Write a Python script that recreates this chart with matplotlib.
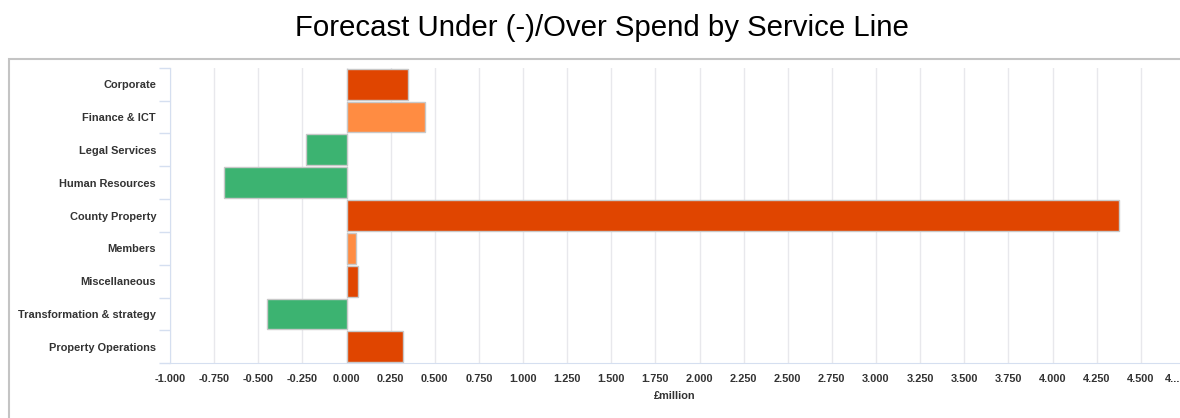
import matplotlib.pyplot as plt
from matplotlib.patches import Rectangle
from matplotlib.ticker import FixedLocator

services = [
    "Corporate",
    "Finance & ICT",
    "Legal Services",
    "Human Resources",
    "County Property",
    "Members",
    "Miscellaneous",
    "Transformation & strategy",
    "Property Operations",
]

# forecast under(-)/over spend, £million
variance = [0.348, 0.443, -0.231, -0.692, 4.379, 0.054, 0.063, -0.450, 0.322]

# status band per service line
status = ["high", "mid", "under", "under", "high", "mid", "high", "under", "high"]

x_ticks = [-1.0, -0.75, -0.5, -0.25, 0.0, 0.25, 0.5, 0.75, 1.0, 1.25, 1.5, 1.75,
           2.0, 2.25, 2.5, 2.75, 3.0, 3.25, 3.5, 3.75, 4.0, 4.25, 4.5]

COLORS = {"high": "#E04500", "mid": "#FF8C42", "under": "#3CB371"}
TXT = "#333333"
AXIS = "#D5DFF0"

plt.rcParams["font.family"] = ["Liberation Sans", "DejaVu Sans"]

fig = plt.figure(figsize=(11.8, 4.18), dpi=100)

# outer chart frame
fig.patches.append(Rectangle(
    (9 / 1180, -0.1), 1.2, 1.1 - 59 / 418,
    transform=fig.transFigure, fill=False,
    edgecolor="#C4C4C4", linewidth=1.5, zorder=0
))

ax = fig.add_axes([170 / 1180, 1 - 363.3 / 418, 1010 / 1180, (363.3 - 67.7) / 418])

pos = list(range(len(services)))
ax.barh(
    pos,
    variance,
    height=0.94,
    color=[COLORS[s] for s in status],
    edgecolor="#C8C8C8",
    linewidth=1,
    zorder=3
)

ax.set_ylim(len(services) - 0.5, -0.5)
ax.set_xlim(-1.0, (1180 - 346.5) / 176.5)

ax.set_yticks(pos)
ax.set_yticklabels(services, fontsize=7.9, fontweight="bold", color=TXT)
ax.yaxis.set_minor_locator(FixedLocator([p - 0.5 for p in pos] + [len(pos) - 0.5]))
ax.tick_params(axis="y", which="major", length=0, pad=10)
ax.tick_params(axis="y", which="minor", length=8, color=AXIS, width=1)

ax.set_xticks(x_ticks)
ax.set_xticklabels([f"{t:.3f}" for t in x_ticks], fontsize=7.9, fontweight="bold", color=TXT)
ax.tick_params(axis="x", length=0, pad=8)
# last tick label is cut off in the source chart
ax.text(1.0, -0.036, "4...", transform=ax.transAxes, ha="right", va="top",
        fontsize=7.9, fontweight="bold", color=TXT)

ax.xaxis.grid(True, color="#E8E8EC", linewidth=1, zorder=0)
ax.set_axisbelow(True)

for side in ["top", "right"]:
    ax.spines[side].set_visible(False)
ax.spines["left"].set_color(AXIS)
ax.spines["bottom"].set_color(AXIS)

ax.set_xlabel("£million", fontsize=7.9, fontweight="bold", color=TXT, labelpad=5)

fig.text(
    602 / 1180, 1 - 28 / 418,
    "Forecast Under (-)/Over Spend by Service Line",
    ha="center", va="center", fontsize=21.2,
    color="#000000"
)

fig.savefig("out.png", dpi=100)
